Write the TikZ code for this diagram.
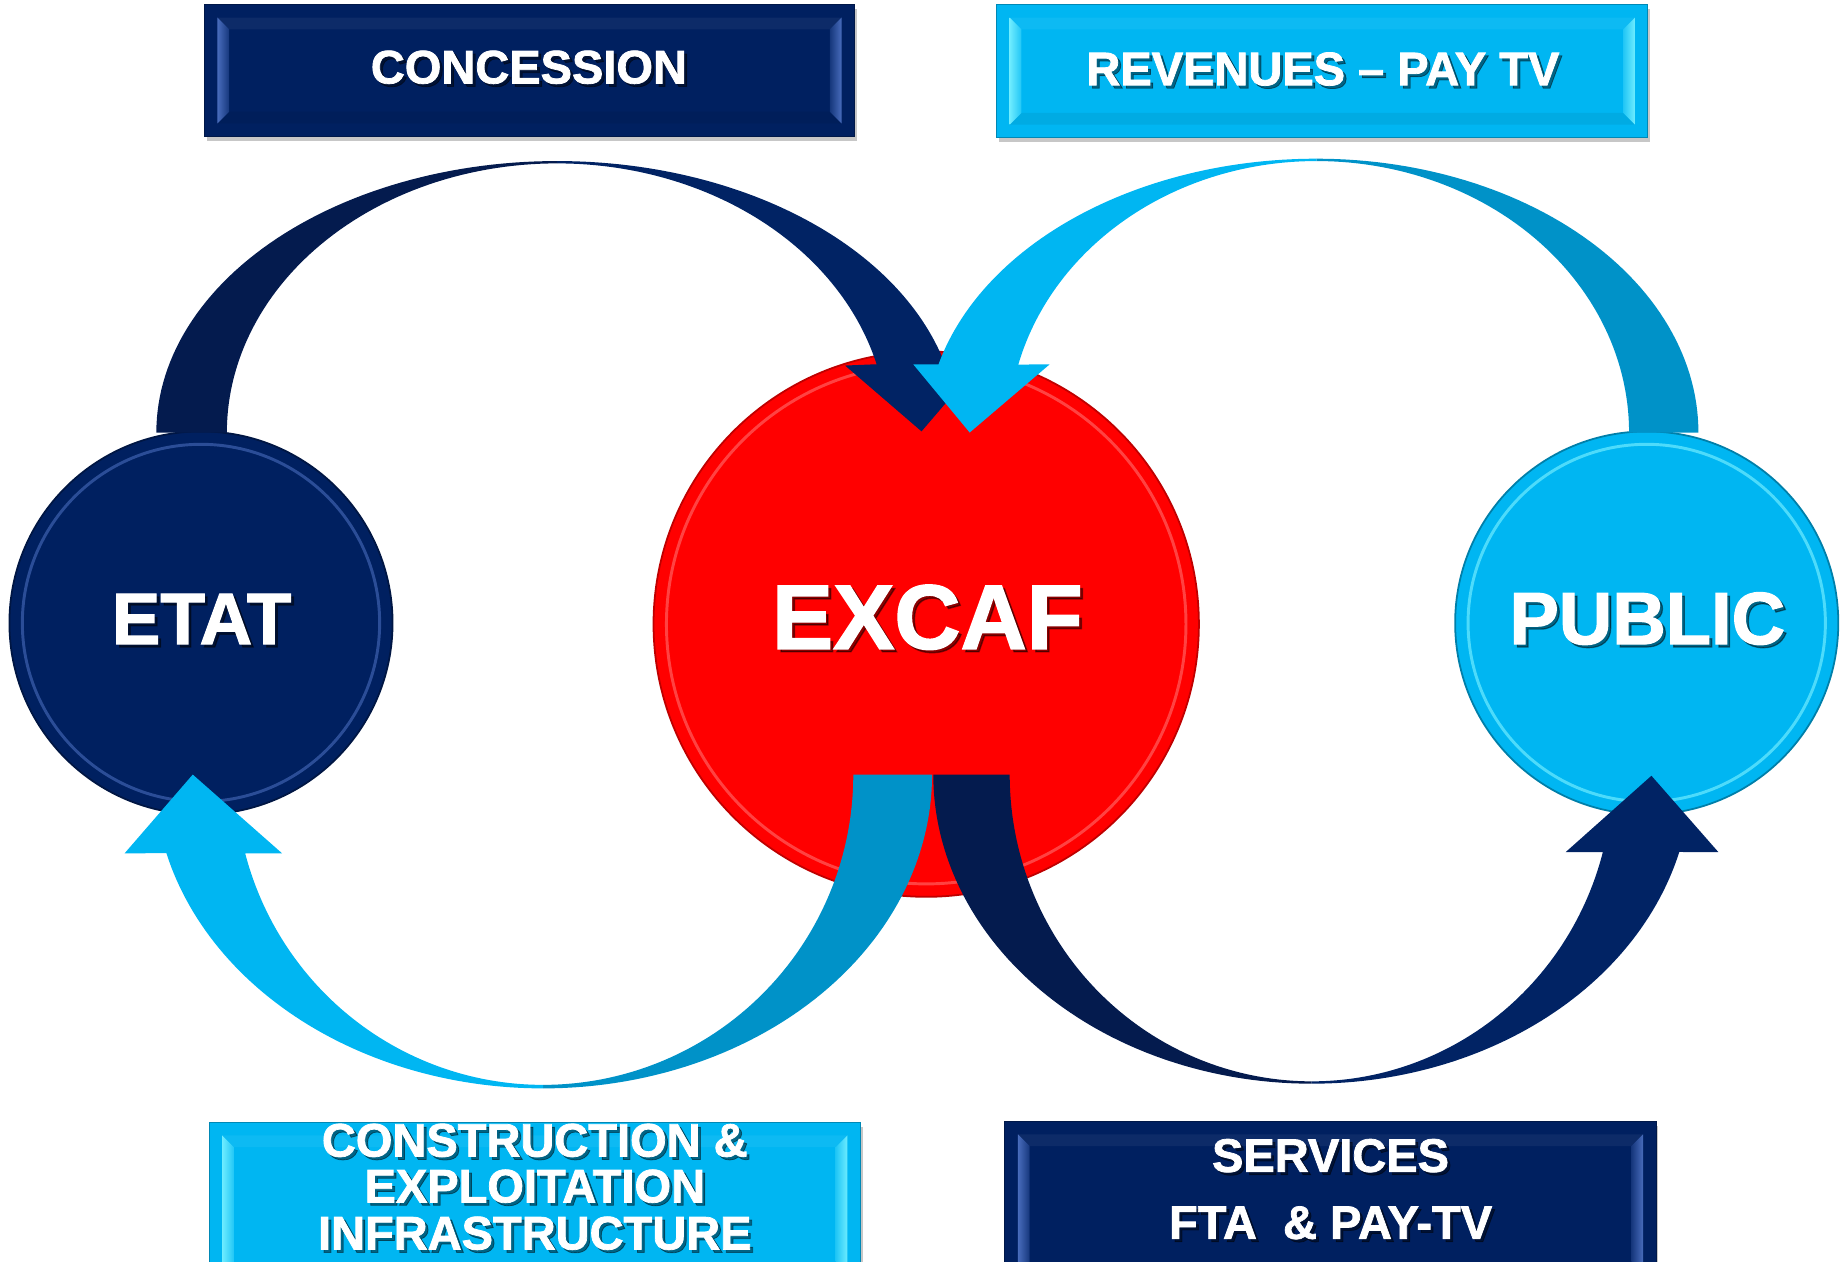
\documentclass[tikz,border=0pt]{standalone}
\usepackage{fontspec}
\setmainfont{Liberation Sans}
\newfontfamily\heavy[BoldFeatures={FakeBold=1.6}]{Liberation Sans}
\definecolor{navy}{RGB}{0,32,96}
\definecolor{navyback}{RGB}{4,27,78}
\definecolor{navyfront}{RGB}{1,35,100}
\definecolor{navylight}{RGB}{72,108,188}
\definecolor{sky}{RGB}{0,182,242}
\definecolor{skyback}{RGB}{0,146,200}
\definecolor{skylight}{RGB}{110,236,255}
\definecolor{exred}{RGB}{255,0,0}
\definecolor{redlight}{RGB}{255,110,110}
\tikzset{
  txt/.style={text=white, inner sep=0pt, anchor=base},
  txtsh/.style={text=black, text opacity=0.45, inner sep=0pt, anchor=base},
  boxfont/.style={font=\heavy\bfseries\fontsize{40}{40}\selectfont},
  disc/.style={circle, inner sep=0pt, minimum size=#1},
}
% bevelled box: name, x1, y1, x2, y2, fill, light
\newcommand{\bevbox}[7]{%
  \fill[black,opacity=0.22] ({#2+2},{#3+4}) rectangle ({#4+2},{#5+4});
  \node[fill=#6, draw=#6!75!black, line width=0.8pt, inner sep=0pt,
        minimum width={#4-#2}, minimum height={#5-#3}] (#1) at ({(#2+#4)/2},{(#3+#5)/2}) {};
  \fill[#6!95!white] ({#2+11},{#3+11}) -- ({#4-11},{#3+11}) -- ({#4-21},{#3+21}) -- ({#2+21},{#3+21}) -- cycle;
  \fill[#6!94!black] ({#2+11},{#5-11}) -- ({#4-11},{#5-11}) -- ({#4-21},{#5-21}) -- ({#2+21},{#5-21}) -- cycle;
  \shade[left color=#7, right color=#6!70!#7] ({#2+11},{#3+11}) -- ({#2+21},{#3+21}) -- ({#2+21},{#5-21}) -- ({#2+11},{#5-11}) -- cycle;
  \shade[left color=#6!70!#7, right color=#7] ({#4-11},{#3+11}) -- ({#4-21},{#3+21}) -- ({#4-21},{#5-21}) -- ({#4-11},{#5-11}) -- cycle;
}
% label with shadow: name, x, y, font, text
\newcommand{\shlabel}[5]{%
  \node[txtsh, #4] (#1-s) at ({#2+2.5},{#3+2.5}) {#5};
  \node[txt, #4] (#1) at (#2,#3) {#5};
}
\begin{document}
\begin{tikzpicture}[x=1pt, y=-1pt]
\useasboundingbox (0,0) rectangle (1568,1073);

% ---------- boxes ----------
\bevbox{bconc}{174}{4}{727}{116}{navy}{navylight}
\bevbox{brev}{848}{4}{1402}{117}{sky}{skylight}
\bevbox{bcons}{178}{955}{732}{1110}{sky}{skylight}
\bevbox{bserv}{855}{954}{1409}{1110}{navy}{navylight}

% ---------- circles ----------
\node[disc=326pt, fill=navy, draw=navy!70!black, line width=1.5pt] (etat) at (171,530) {};
\draw[navylight, line width=2.5pt, opacity=0.6] (etat.center) circle[radius=152pt];
\node[disc=464pt, fill=exred, draw=exred!75!black, line width=1.5pt] (excaf) at (788,531) {};
\draw[redlight, line width=2.5pt, opacity=0.6] (excaf.center) circle[radius=221pt];
\node[disc=326pt, fill=sky, draw=sky!70!black, line width=1.5pt] (public) at (1401,530) {};
\draw[skylight, line width=2.5pt, opacity=0.7] (public.center) circle[radius=152pt];

% ---------- arrow A : ETAT -> EXCAF (navy, top left) ----------
\fill[navyback] plot[domain=180:90, samples=60] ({474+341*cos(\x)},{368-231*sin(\x)})
  -- plot[domain=90:180, samples=60] ({474+281*cos(\x)},{368-229*sin(\x)}) -- cycle;
\fill[navyfront] plot[domain=90:14.5, samples=60] ({474+341*cos(\x)},{368-231*sin(\x)})
  -- (832,311) -- (784,367) -- (719,311)
  -- plot[domain=14.7:90, samples=60] ({474+281*cos(\x)},{368-229*sin(\x)}) -- cycle;

% ---------- arrow B : PUBLIC -> EXCAF (sky, top right) ----------
\fill[skyback] plot[domain=0:90, samples=60] ({1120+325*cos(\x)},{368-233*sin(\x)})
  -- plot[domain=90:0, samples=60] ({1120+266*cos(\x)},{368-231*sin(\x)}) -- cycle;
\fill[sky] plot[domain=90:165.6, samples=60] ({1120+332*cos(\x)},{368-233*sin(\x)})
  -- (777,310) -- (825,368) -- (893,310)
  -- plot[domain=165.5:90, samples=60] ({1120+262*cos(\x)},{368-231*sin(\x)}) -- cycle;

% ---------- arrow C : EXCAF -> ETAT (sky, bottom left) ----------
\fill[skyback] plot[domain=0:90, samples=60] ({462+331*cos(\x)},{659+267*sin(\x)})
  -- plot[domain=90:0, samples=60] ({462+264*cos(\x)},{659+264*sin(\x)}) -- cycle;
\fill[sky] plot[domain=90:165.5, samples=60] ({462+331*cos(\x)},{659+267*sin(\x)})
  -- (106,726) -- (164,659) -- (240,726)
  -- plot[domain=165.3:90, samples=60] ({462+262*cos(\x)},{659+264*sin(\x)}) -- cycle;

% ---------- arrow D : EXCAF -> PUBLIC (navy, bottom right) ----------
\fill[navyback] plot[domain=180:90, samples=60] ({1116+322*cos(\x)},{659+263*sin(\x)})
  -- plot[domain=90:180, samples=60] ({1116+257*cos(\x)},{659+261*sin(\x)}) -- cycle;
\fill[navyfront] plot[domain=90:14.5, samples=60] ({1116+323*cos(\x)},{659+263*sin(\x)})
  -- (1462,725) -- (1405,660) -- (1332,725)
  -- plot[domain=14.65:90, samples=60] ({1116+256*cos(\x)},{659+261*sin(\x)}) -- cycle;

% ---------- texts ----------
\shlabel{tconc}{450}{71}{boxfont}{CONCESSION}
\shlabel{trev}{1125.5}{72.5}{boxfont}{REVENUES – PAY TV}
\shlabel{tcons1}{455}{984}{boxfont}{CONSTRUCTION \&}
\shlabel{tcons2}{455}{1023}{boxfont}{EXPLOITATION}
\shlabel{tcons3}{455}{1063}{boxfont}{INFRASTRUCTURE}
\shlabel{tserv1}{1132}{997}{boxfont}{SERVICES}
\shlabel{tserv2}{1132}{1054}{boxfont}{FTA\ \ \& PAY-TV}
\shlabel{tetat}{171.5}{548}{font=\heavy\bfseries\fontsize{62}{62}\selectfont}{ETAT}
\shlabel{texcaf}{789}{552}{font=\heavy\bfseries\fontsize{78}{78}\selectfont}{EXCAF}
\shlabel{tpublic}{1401.5}{548}{font=\heavy\bfseries\fontsize{63}{63}\selectfont}{PUBLIC}
\end{tikzpicture}
\end{document}
